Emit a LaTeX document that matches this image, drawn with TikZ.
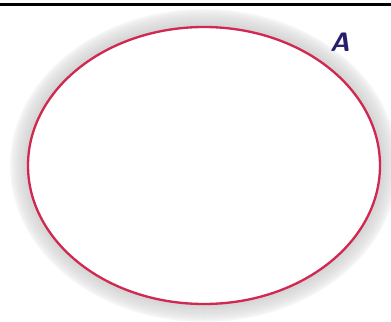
\documentclass[tikz,border=0pt]{standalone}
\usepackage{xcolor}
\usepackage{tikz}
\usetikzlibrary{positioning,calc}

\definecolor{setred}{RGB}{208,40,80}
\definecolor{setnavy}{RGB}{40,30,110}

\begin{document}
\begin{tikzpicture}[x=0.5mm,y=-0.5mm]
\useasboundingbox (0,0) rectangle (391,321);

% top rule
\draw[line width=4.2pt] (0,4.5) -- (391,4.5);

% soft gray halo round the set
\foreach \r in {18,17,...,1} {
    \pgfmathsetmacro{\shade}{17*(1-\r/19)^0.6}
    \fill[black!\shade] (204,165.5) ellipse ({176+\r} and {138.5+\r});
}

% the set A
\fill[white] (204,165.5) ellipse (176 and 138.5);
\draw[setred,line width=3.3pt] (204,165.5) ellipse (176 and 138.5);

\node[text=setnavy,font=\sffamily\bfseries\itshape\fontsize{38}{38}\selectfont] (labelA) at (340,42) {A};
\end{tikzpicture}
\end{document}
